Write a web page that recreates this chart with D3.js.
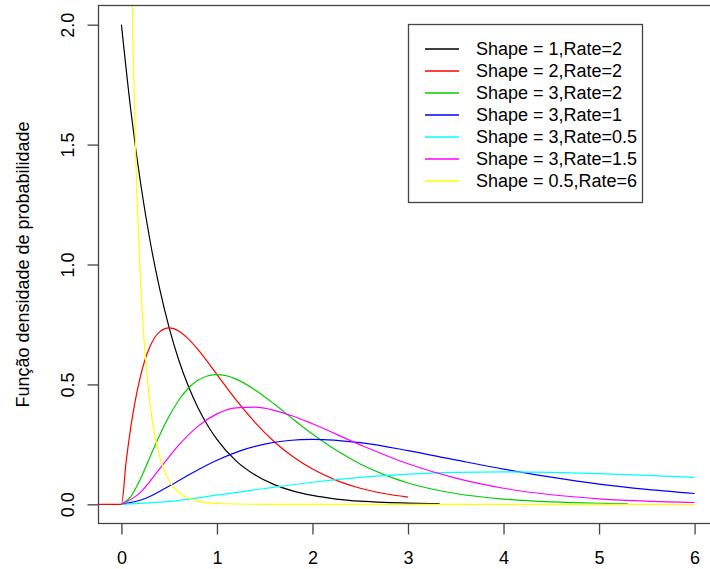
<!doctype html>
<html>
<head>
    <style>
        body { margin: 0; background: #fff; }
        svg text { font-family: "Liberation Sans", Arial, sans-serif; fill: #000; }
    </style>
    <script src="https://d3js.org/d3.v7.min.js"></script>
</head>
<body>
<svg id="chart" width="710" height="569"></svg>
<script>
    // values (gamma densities)
    var blackX = [0, 0.1, 0.2, 0.3, 0.4, 0.5, 0.6, 0.7, 0.8, 0.9, 1.0, 1.2, 1.4, 1.6, 1.8, 2.0, 2.25, 2.5, 2.75, 3.0, 3.33];
    var blackY = [2.0, 1.637, 1.341, 1.098, 0.899, 0.736, 0.602, 0.493, 0.404, 0.331, 0.271, 0.181, 0.122, 0.082, 0.055, 0.037, 0.022, 0.013, 0.008, 0.005, 0.003];

    var redX = [-0.5, -0.25, 0, 0.05, 0.1, 0.2, 0.3, 0.4, 0.5, 0.6, 0.7, 0.8, 0.9, 1.0, 1.2, 1.4, 1.6, 1.8, 2.0, 2.25, 2.5, 2.75, 3.0];
    var redY = [0, 0, 0, 0.181, 0.327, 0.536, 0.659, 0.719, 0.736, 0.723, 0.690, 0.646, 0.595, 0.541, 0.435, 0.341, 0.261, 0.197, 0.147, 0.100, 0.067, 0.045, 0.030];

    var greenX = [0, 0.1, 0.2, 0.3, 0.4, 0.5, 0.6, 0.7, 0.8, 0.9, 1.0, 1.1, 1.2, 1.4, 1.6, 1.8, 2.0, 2.25, 2.5, 2.75, 3.0, 3.5, 4.0, 4.5, 5.0, 5.3];
    var greenY = [0, 0.033, 0.107, 0.198, 0.288, 0.368, 0.434, 0.484, 0.517, 0.535, 0.541, 0.536, 0.522, 0.477, 0.418, 0.354, 0.293, 0.225, 0.168, 0.124, 0.089, 0.045, 0.022, 0.010, 0.0045, 0.0028];

    var blueX = [0, 0.25, 0.5, 0.75, 1.0, 1.25, 1.5, 1.75, 2.0, 2.5, 3.0, 3.5, 4.0, 4.5, 5.0, 5.5, 6.0];
    var blueY = [0, 0.024, 0.076, 0.133, 0.184, 0.224, 0.251, 0.266, 0.271, 0.257, 0.224, 0.185, 0.147, 0.113, 0.084, 0.062, 0.045];

    var cyanX = [0, 0.5, 1.0, 1.5, 2.0, 2.5, 3.0, 3.5, 4.0, 4.5, 5.0, 5.5, 6.0];
    var cyanY = [0, 0.012, 0.038, 0.066, 0.092, 0.112, 0.126, 0.133, 0.135, 0.133, 0.128, 0.121, 0.112];

    var magentaX = [0, 0.2, 0.4, 0.6, 0.8, 1.0, 1.2, 1.4, 1.6, 1.8, 2.0, 2.5, 3.0, 3.5, 4.0, 4.5, 5.0, 5.5, 6.0];
    var magentaY = [0, 0.050, 0.148, 0.247, 0.325, 0.377, 0.402, 0.405, 0.392, 0.367, 0.336, 0.248, 0.169, 0.109, 0.067, 0.040, 0.023, 0.013, 0.0075];

    var yellowX = [0.06, 0.1, 0.12, 0.15, 0.2, 0.25, 0.3, 0.35, 0.4, 0.5, 0.6, 0.7, 0.8, 1.0, 1.5, 2.0, 3.0, 4.0, 5.0, 6.0];
    var yellowY = [3.94, 2.398, 1.943, 1.451, 0.931, 0.617, 0.417, 0.286, 0.198, 0.097, 0.049, 0.025, 0.013, 0.0034, 0.0001, 0, 0, 0, 0, 0];

    var legendLabels = ["Shape = 1,Rate=2", "Shape = 2,Rate=2", "Shape = 3,Rate=2", "Shape = 3,Rate=1",
                        "Shape = 3,Rate=0.5", "Shape = 3,Rate=1.5", "Shape = 0.5,Rate=6"];
    var xTicks = [0, 1, 2, 3, 4, 5, 6];
    var yTicks = [0, 0.5, 1.0, 1.5, 2.0];

    var series = [
        { x: blackX, y: blackY, color: "#000000" },
        { x: redX, y: redY, color: "#FF0000" },
        { x: greenX, y: greenY, color: "#00CD00" },
        { x: blueX, y: blueY, color: "#0000FF" },
        { x: cyanX, y: cyanY, color: "#00FFFF" },
        { x: magentaX, y: magentaY, color: "#FF00FF" },
        { x: yellowX, y: yellowY, color: "#FFFF00" }
    ];

    var svg = d3.select("#chart"),
        pLeft = 98.5, pRight = 717.5, pTop = 5.5, pBottom = 523.5;

    var xScale = d3.scaleLinear().domain([-0.24, 6.24]).range([pLeft, pRight]),
        yScale = d3.scaleLinear().domain([-0.08, 2.08]).range([pBottom, pTop]);

    svg.append("clipPath")
       .attr("id", "plotclip")
       .append("rect")
       .attr("x", pLeft).attr("y", pTop)
       .attr("width", pRight - pLeft).attr("height", pBottom - pTop);

    var line = d3.line()
                 .x(function(d) { return xScale(d[0]); })
                 .y(function(d) { return yScale(d[1]); })
                 .curve(d3.curveMonotoneX);

    var plot = svg.append("g").attr("clip-path", "url(#plotclip)");

    series.forEach(function(s) {
        plot.append("path")
            .datum(s.x.map(function(v, i) { return [v, s.y[i]]; }))
            .attr("fill", "none")
            .attr("stroke", s.color)
            .attr("stroke-width", 1.2)
            .attr("d", line);
    });

    // box
    svg.append("rect")
       .attr("x", pLeft).attr("y", pTop)
       .attr("width", pRight - pLeft).attr("height", pBottom - pTop)
       .attr("fill", "none")
       .attr("stroke", "#444")
       .attr("stroke-width", 1.3);

    var xAxis = svg.append("g")
       .attr("transform", "translate(0," + pBottom + ")")
       .call(d3.axisBottom(xScale).tickValues(xTicks).tickSize(11).tickPadding(17)
             .tickFormat(function(d) { return d; }));
    xAxis.select(".domain").remove();
    xAxis.selectAll("line").attr("stroke", "#444").attr("stroke-width", 1.3);
    xAxis.selectAll("text").attr("font-size", "18px").attr("font-family", null);

    var yAxis = svg.append("g")
       .attr("transform", "translate(" + pLeft + ",0)")
       .call(d3.axisLeft(yScale).tickValues(yTicks).tickSize(11)
             .tickFormat(d3.format(".1f")));
    yAxis.select(".domain").remove();
    yAxis.selectAll("line").attr("stroke", "#444").attr("stroke-width", 1.3);
    yAxis.selectAll("text")
         .attr("x", null).attr("dy", null)
         .attr("text-anchor", "middle")
         .attr("font-size", "18px").attr("font-family", null)
         .attr("transform", "translate(-25,0) rotate(-90)");

    svg.append("text")
       .attr("transform", "translate(29," + ((pTop + pBottom) / 2) + ") rotate(-90)")
       .attr("text-anchor", "middle")
       .attr("font-size", "18px")
       .text("Função densidade de probabilidade");

    // legend
    var lg = svg.append("g");
    lg.append("rect")
      .attr("x", 408.5).attr("y", 24.5).attr("width", 234).attr("height", 178)
      .attr("fill", "#fff").attr("stroke", "#444").attr("stroke-width", 1.3);

    var rows = lg.selectAll(".row")
      .data(series)
      .enter().append("g")
      .attr("class", "row")
      .attr("transform", function(d, i) { return "translate(0," + Math.round(49 + i * 22.07) + ")"; });

    rows.append("line")
        .attr("x1", 425).attr("x2", 459)
        .attr("stroke", function(d) { return d.color; })
        .attr("stroke-width", 1.6);

    rows.append("text")
        .attr("x", 476)
        .attr("dy", "0.36em")
        .attr("font-size", "18px")
        .text(function(d, i) { return legendLabels[i]; });
</script>
</body>
</html>
